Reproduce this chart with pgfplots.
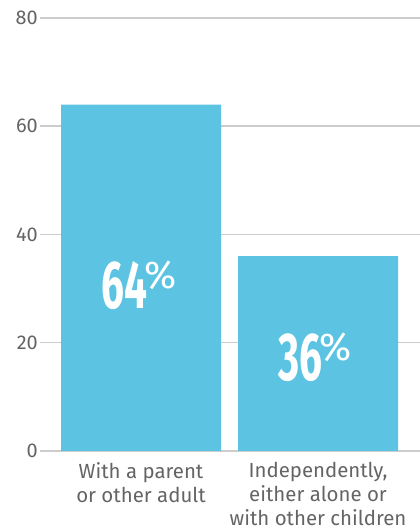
\documentclass[border=0pt]{standalone}
\usepackage{fontspec}
\setmainfont{Fira Sans}
\usepackage{pgfplots}
\pgfplotsset{compat=1.18}
\definecolor{barblue}{RGB}{92,196,226}
\definecolor{txtgray}{RGB}{100,100,100}
\definecolor{gridgray}{RGB}{204,204,204}
\newcommand{\bignum}[1]{\scalebox{0.6}[1]{\fontsize{68}{68}\selectfont\bfseries #1}\kern-3bp\raisebox{20bp}{\fontsize{39}{39}\selectfont\%}}
\begin{document}
\begin{tikzpicture}
\begin{axis}[
  scale only axis, width=380bp, height=433bp,
  xmin=-0.5706, xmax=1.576, ymin=0, ymax=80,
  axis line style={draw=none},
  major tick length=0pt,
  ymajorgrids, grid style={gridgray, line width=1.5bp},
  ytick={0,20,40,60,80},
  xtick={0,1},
  xticklabels={{With a parent\\or other adult}, {Independently,\\either alone or\\with other children}},
  /pgf/number format/assume math mode=true,
  yticklabel style={font=\fontsize{20}{22}\selectfont, text=txtgray, inner sep=2bp},
  xticklabel style={font=\fontsize{20.5}{24}\selectfont, text=txtgray, align=center, anchor=north, inner sep=2bp, yshift=-9bp},
]
\addplot[ybar, bar width=160bp, fill=barblue, draw=none] coordinates {(0,64) (1,36)};
\addplot[draw=none, mark=none, point meta=explicit symbolic,
  nodes near coords={\bignum{\pgfplotspointmeta}},
  nodes near coords style={anchor=center, text=white, inner sep=0pt}]
  coordinates {(-0.01,30.7)[64] (0.985,17.3)[36]};
\end{axis}
\pgfresetboundingbox
\useasboundingbox (-40bp,-80bp) rectangle (380bp,451bp);
\end{tikzpicture}
\end{document}
